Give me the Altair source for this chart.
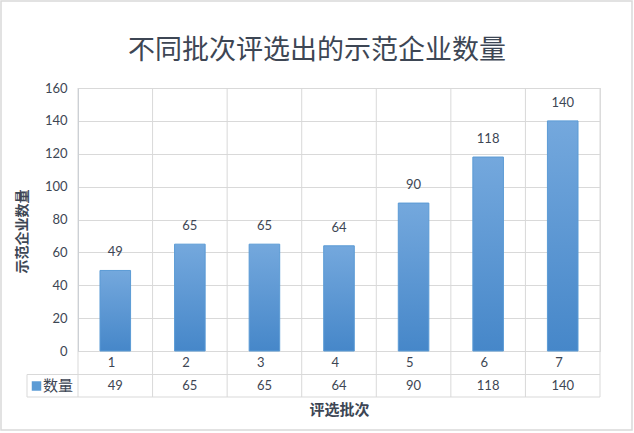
import altair as alt
import pandas as pd

batches = ["1", "2", "3", "4", "5", "6", "7"]
counts = [49, 65, 65, 64, 90, 118, 140]
y_ticks = [0, 20, 40, 60, 80, 100, 120, 140, 160]
title_text = "不同批次评选出的示范企业数量"
y_title = "示范企业数量"
x_title = "评选批次"
series_name = "数量"

df = pd.DataFrame({"batch": batches, "count": counts})
one = pd.DataFrame({"k": [0]})

W, H = 522, 263
TEXT = "#3d4654"
GRID = "#d9d9d9"
CJK = "Noto Sans CJK SC"
NUM = "Lato"

xscale = alt.Scale(paddingInner=0, paddingOuter=0)
xenc = alt.X("batch:N", sort=batches, scale=xscale,
             axis=alt.Axis(orient="bottom", domain=True, domainColor=GRID, ticks=False,
                           grid=False, labelAngle=0, labelBaseline="middle", labelPadding=11,
                           labelFontSize=13, labelColor=TEXT, labelFont=NUM,
                           title=x_title, titleFont=CJK, titleFontSize=15, titleFontWeight="bold",
                           titleColor=TEXT, titleX=W / 2, titleY=58.5, titleBaseline="middle",
                           titleAlign="center"))
yaxis = alt.Axis(values=y_ticks, tickCount=9, grid=True, gridColor=GRID, domain=True,
                 domainColor="#bfc6d0", ticks=False, labelPadding=11,
                 labelOverlap=False, labelFontSize=13, labelColor=TEXT, labelFont=NUM,
                 title=y_title, titleFont=CJK, titleFontSize=14, titleFontWeight="bold",
                 titleColor=TEXT, titleX=-55.5, titleY=143, titleAngle=-90,
                 titleAlign="center", titleBaseline="middle")
yscale = alt.Scale(domain=[0, 160], nice=False)
yenc = alt.Y("count:Q", scale=yscale, axis=yaxis)

base = alt.Chart(df)

border = alt.Chart(one).mark_rect(fill=None, stroke=GRID, strokeWidth=1.5).encode(
    x=alt.value(-77), x2=alt.value(554), y=alt.value(-87), y2=alt.value(342))

vlines = base.mark_rule(color=GRID, strokeWidth=1).encode(
    x=alt.X("batch:N", sort=batches, scale=xscale, bandPosition=0),
    y=alt.value(0), y2=alt.value(309))
right_line = alt.Chart(one).mark_rule(color=GRID).encode(
    x=alt.value(W), y=alt.value(0), y2=alt.value(309))
row_line1 = alt.Chart(one).mark_rule(color=GRID).encode(
    x=alt.value(-51), x2=alt.value(W), y=alt.value(286.5))
row_line2 = alt.Chart(one).mark_rule(color=GRID).encode(
    x=alt.value(-51), x2=alt.value(W), y=alt.value(309))
left_cell = alt.Chart(one).mark_rule(color=GRID).encode(
    x=alt.value(-51), y=alt.value(286.5), y2=alt.value(309))

grad = alt.Gradient(gradient="linear",
                    stops=[alt.GradientStop(color="#74a8dd", offset=0),
                           alt.GradientStop(color="#4687c9", offset=1)],
                    x1=0, x2=0, y1=0, y2=1)

bars = base.mark_bar(width={"band": 0.41}, color=grad, stroke="#5b9bd5", strokeWidth=1).encode(
    x=xenc, y=yenc)

labels = base.mark_text(dy=-18, fontSize=13, color=TEXT, font=NUM, baseline="middle").encode(
    x=xenc, y=yenc, text="count:Q")

values_row = base.mark_text(fontSize=13, color=TEXT, font=NUM, baseline="middle").encode(
    x=xenc, y=alt.value(298), text="count:Q")

legend_sq = alt.Chart(one).mark_square(size=90, color="#5b9bd5", opacity=1).encode(
    x=alt.value(-41.5), y=alt.value(298))
legend_txt = alt.Chart(one).mark_text(text=series_name, fontSize=15, color=TEXT, font=CJK,
                                      align="left", baseline="middle").encode(
    x=alt.value(-35), y=alt.value(298))

title_mark = alt.Chart(one).mark_text(text=title_text, fontSize=27, color=TEXT, font=CJK,
                                      align="center", baseline="middle").encode(
    x=alt.value(239), y=alt.value(-37))

chart = alt.layer(border, vlines, right_line, row_line1, row_line2, left_cell, bars, labels,
                  values_row, legend_sq, legend_txt, title_mark).properties(
    width=W, height=H,
    autosize=alt.AutoSizeParams(type="none"),
    padding={"left": 78, "top": 88, "right": 34, "bottom": 82},
).configure_view(stroke=None).configure(background="white")

chart.save("out.html", embed_options={"renderer": "svg", "actions": False})
